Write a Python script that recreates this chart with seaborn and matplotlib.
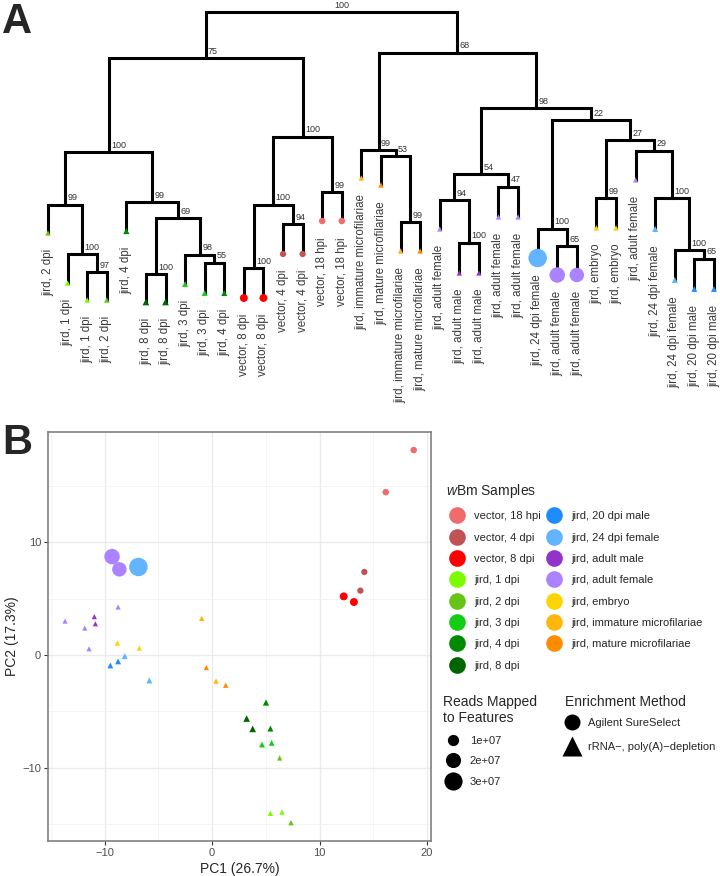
import numpy as np
import pandas as pd
import matplotlib
matplotlib.use("Agg")
import matplotlib.pyplot as plt
from matplotlib.lines import Line2D
import seaborn as sns

sns.set_style("white")
plt.rcParams['font.family'] = ['Liberation Sans', 'DejaVu Sans']
plt.rcParams['mathtext.fontset'] = 'custom'
plt.rcParams['mathtext.it'] = 'Liberation Sans:italic'
plt.rcParams['mathtext.rm'] = 'Liberation Sans'

# ── data ──────────────────────────────────────────────────────────────────────
groups = ['vector, 18 hpi', 'vector, 4 dpi', 'vector, 8 dpi', 'jird, 1 dpi',
          'jird, 2 dpi', 'jird, 3 dpi', 'jird, 4 dpi', 'jird, 8 dpi',
          'jird, 20 dpi male', 'jird, 24 dpi female', 'jird, adult male',
          'jird, adult female', 'jird, embryo', 'jird, immature microfilariae',
          'jird, mature microfilariae']
group_colors = ['#F06B6B', '#C05454', '#FF0000', '#7CFC00', '#66C419',
                '#13CC13', '#008A00', '#006400', '#1E8CFF', '#63B4FF',
                '#9233CC', '#AB82FF', '#FFD400', '#FFB60F', '#FF8C00']
methods = ['Agilent SureSelect', 'rRNA\u2212, poly(A)\u2212depletion']

# samples in dendrogram leaf order
sample_group = ['jird, 2 dpi', 'jird, 1 dpi', 'jird, 1 dpi', 'jird, 2 dpi',
                'jird, 4 dpi', 'jird, 8 dpi', 'jird, 8 dpi', 'jird, 3 dpi',
                'jird, 3 dpi', 'jird, 4 dpi', 'vector, 8 dpi', 'vector, 8 dpi',
                'vector, 4 dpi', 'vector, 4 dpi', 'vector, 18 hpi', 'vector, 18 hpi',
                'jird, immature microfilariae', 'jird, mature microfilariae',
                'jird, immature microfilariae', 'jird, mature microfilariae',
                'jird, adult female', 'jird, adult male', 'jird, adult male',
                'jird, adult female', 'jird, adult female', 'jird, 24 dpi female',
                'jird, adult female', 'jird, adult female', 'jird, embryo',
                'jird, embryo', 'jird, adult female', 'jird, 24 dpi female',
                'jird, 24 dpi female', 'jird, 20 dpi male', 'jird, 20 dpi male']
sample_method = [1] * 10 + [0] * 6 + [1] * 9 + [0] * 3 + [1] * 7
sample_reads = [4e5, 5e5, 5e5, 5e5, 1.5e6, 2e6, 2e6, 1e6, 1e6, 1.2e6,
                3.8e6, 3.8e6, 1.5e6, 1.5e6, 1.8e6, 1.8e6,
                5e5, 5e5, 5e5, 5e5, 3e5, 3e5, 3e5, 3e5, 3e5,
                3.1e7, 2.1e7, 1.8e7, 5e5, 5e5, 3e5, 1.2e6, 1.2e6, 1e6, 1e6]
pc1 = [6.29, 5.43, 6.51, 7.35, 5.02, 3.22, 3.78, 4.65, 5.55, 5.43,
       12.25, 13.20, 14.17, 13.80, 18.76, 16.16,
       -0.96, -0.53, 0.37, 1.27, -13.67, -10.95, -10.85, -11.84, -11.44,
       -6.85, -9.30, -8.62, -8.81, -6.76, -8.74, -8.12, -5.83, -9.46, -8.74]
pc2 = [-9.13, -14.04, -13.93, -14.87, -4.21, -5.63, -6.55, -7.94, -7.79, -6.52,
       5.21, 4.71, 7.38, 5.72, 18.20, 14.46,
       3.26, -1.10, -2.31, -2.67, 3.02, 3.41, 2.78, 2.40, 0.56,
       7.82, 8.74, 7.61, 1.07, 0.62, 4.27, -0.09, -2.25, -0.92, -0.56]

# tree: tip heights and merges (left, right, height, bootstrap)
tip_height = [7.7, 2.7, 1.0, 1.0, 7.9, 0.8, 0.8, 2.6, 1.7, 1.7,
              1.2, 1.2, 5.6, 5.6, 8.9, 8.9, 13.2, 12.5, 5.9, 5.9,
              8.1, 3.7, 3.7, 9.3, 9.3, 5.2, 3.5, 3.5, 8.2, 8.2,
              13.0, 8.1, 3.0, 2.1, 2.1]
merges = [(2, 3, 3.8, 97), (1, 35, 5.6, 100), (0, 36, 10.5, 99),
          (5, 6, 3.6, 100), (8, 9, 4.7, 55), (7, 39, 5.5, 98),
          (38, 40, 9.2, 69), (4, 41, 10.8, 99), (37, 42, 15.8, 100),
          (10, 11, 4.2, 100), (12, 13, 8.6, 94), (44, 45, 10.5, 100),
          (14, 15, 11.8, 99), (46, 47, 17.3, 100), (43, 48, 25.2, 75),
          (18, 19, 8.8, 99), (17, 50, 15.4, 53), (16, 51, 16.0, 99),
          (21, 22, 6.7, 100), (20, 53, 11.0, 94), (23, 24, 12.3, 47),
          (54, 55, 13.6, 54), (26, 27, 6.4, 65), (25, 57, 8.1, 100),
          (28, 29, 11.2, 99), (33, 34, 5.1, 65), (32, 60, 6.0, 100),
          (31, 61, 11.2, 100), (30, 62, 15.9, 29), (59, 63, 17.0, 27),
          (58, 64, 19.0, 22), (56, 65, 20.2, 98), (52, 66, 25.7, 68),
          (49, 67, 29.8, 100)]

df = pd.DataFrame({'group': sample_group,
                   'method': [methods[m] for m in sample_method],
                   'reads': sample_reads, 'PC1': pc1, 'PC2': pc2,
                   'leaf': np.arange(len(sample_group)), 'tip': tip_height})

palette = dict(zip(groups, group_colors))
marker_map = {methods[0]: 'o', methods[1]: '^'}
size_range = (13, 177)
size_norm = (1e5, 3.1e7)

fig = plt.figure(figsize=(7.2, 8.76), dpi=100)

# ── A: dendrogram ─────────────────────────────────────────────────────────────
ax_t = fig.add_axes([0, 1 - 400 / 876, 1, 400 / 876])
n = len(tip_height)
xpos = {i: float(i) for i in range(n)}
hpos = {i: tip_height[i] for i in range(n)}
for k, (a, b, h, bs) in enumerate(merges):
    node = n + k
    ax_t.plot([xpos[a], xpos[a], xpos[b], xpos[b]], [hpos[a], h, h, hpos[b]],
              color='black', lw=2.2, solid_joinstyle='miter', solid_capstyle='projecting',
              zorder=1)
    xpos[node] = (xpos[a] + xpos[b]) / 2
    hpos[node] = h
    ax_t.text(xpos[node] + 0.12, h + 0.25, str(bs), fontsize=6.5, color='#333333',
              ha='left', va='bottom')

sns.scatterplot(data=df, x='leaf', y='tip', hue='group', style='method',
                size='reads', palette=palette, hue_order=groups,
                markers=marker_map, sizes=size_range, size_norm=size_norm,
                linewidth=0, legend=False, ax=ax_t, zorder=3)
for i, g in enumerate(sample_group):
    ax_t.text(i, tip_height[i] - 1.6, g, rotation=90, ha='center', va='top',
              fontsize=8.3, color='#3a3a3a')
ax_t.set_xlim(-2.45, 34.31)
ax_t.set_ylim(-9, 31)
ax_t.axis('off')

# ── B: PCA ────────────────────────────────────────────────────────────────────
ax = fig.add_axes([48 / 720, 1 - 841 / 876, 383 / 720, 409 / 876])
sns.scatterplot(data=df, x='PC1', y='PC2', hue='group', style='method',
                size='reads', palette=palette, hue_order=groups,
                markers=marker_map, sizes=size_range, size_norm=size_norm,
                linewidth=0, legend=False, ax=ax, zorder=3)
ax.set_xlim(-15.26, 20.37)
ax.set_ylim(-16.5, 19.8)
ax.set_xticks([-10, 0, 10, 20])
ax.set_yticks([-10, 0, 10])
ax.set_xticks([-15, -5, 5, 15], minor=True)
ax.set_yticks([-15, -5, 5, 15], minor=True)
ax.grid(True, which='major', color='#EBEBEB', lw=1.0)
ax.grid(True, which='minor', color='#F2F2F2', lw=0.6)
ax.set_axisbelow(True)
ax.tick_params(which='major', length=3, width=0.8, color='#333333',
               labelsize=8, labelcolor='#4D4D4D', pad=2, bottom=True, left=True)
ax.tick_params(which='minor', length=0)
for s in ax.spines.values():
    s.set_color('#808080')
    s.set_linewidth(1.2)
ax.set_xlabel('PC1 (26.7%)', fontsize=10, labelpad=3)
ax.set_ylabel('PC2 (17.3%)', fontsize=10, labelpad=2)

# legends
h_groups = [Line2D([0], [0], marker='o', ls='', markerfacecolor=c,
                   markeredgecolor='none', markersize=12) for c in group_colors]
fig.legend(h_groups, groups, ncol=2, loc='upper left',
           bbox_to_anchor=(446 / 720, 1 - 482 / 876), frameon=False,
           title='$\\it{w}$Bm Samples', title_fontsize=10, fontsize=8,
           alignment='left', handlelength=2.0, handletextpad=0.55,
           columnspacing=0.15, labelspacing=1.02, borderpad=0, borderaxespad=0)

read_levels = [1e7, 2e7, 3e7]
read_ms = [np.sqrt(size_range[0] + (size_range[1] - size_range[0]) *
                   (r - size_norm[0]) / (size_norm[1] - size_norm[0])) for r in read_levels]
h_reads = [Line2D([0], [0], marker='o', ls='', markerfacecolor='black',
                  markeredgecolor='none', markersize=m) for m in read_ms]
fig.legend(h_reads, ['1e+07', '2e+07', '3e+07'], loc='upper left',
           bbox_to_anchor=(443 / 720, 1 - 695 / 876), frameon=False,
           title='Reads Mapped\nto Features', title_fontsize=10, fontsize=8,
           alignment='left', handlelength=1.8, handletextpad=0.6,
           labelspacing=0.95, borderpad=0, borderaxespad=0)

h_meth = [Line2D([0], [0], marker=marker_map[m], ls='', markerfacecolor='black',
                 markeredgecolor='none', markersize=ms) for m, ms in zip(methods, [11.5, 14])]
fig.text(565 / 720, 1 - 702 / 876, 'Enrichment Method', fontsize=10,
         ha='left', va='center')
fig.legend(h_meth, methods, loc='upper left',
           bbox_to_anchor=(565 / 720, 1 - 718 / 876), frameon=False,
           fontsize=8, handlelength=1.3, handletextpad=0.75,
           labelspacing=1.25, borderpad=0, borderaxespad=0)

fig.text(2 / 720, 1 - 2 / 876, 'A', fontsize=30, fontweight='bold', va='top', ha='left')
fig.text(2 / 720, 1 - 423 / 876, 'B', fontsize=30, fontweight='bold', va='top', ha='left')

fig.savefig('out.png', dpi=100)
